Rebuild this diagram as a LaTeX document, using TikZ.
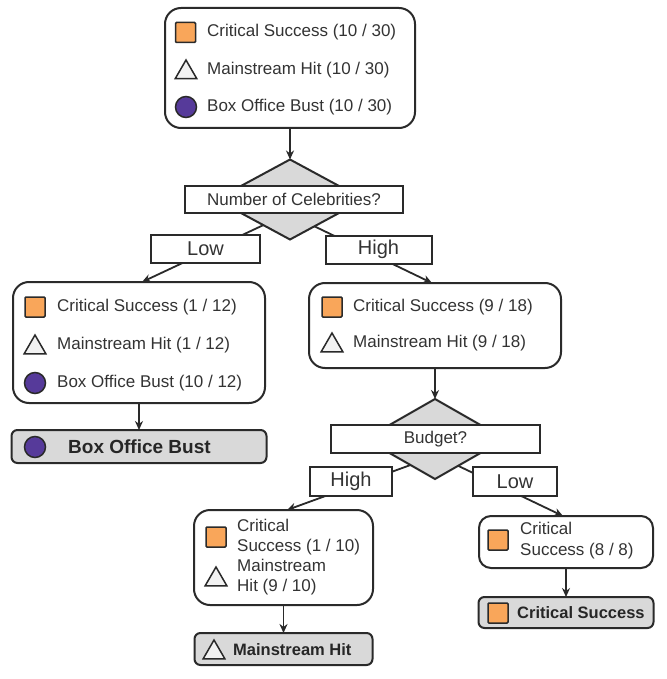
\documentclass[tikz,border=0pt]{standalone}
\usepackage{fontspec}
\setmainfont{Liberation Sans}
\usetikzlibrary{shapes.geometric,arrows.meta,calc}
\definecolor{csor}{HTML}{F9A65A}
\definecolor{bopu}{HTML}{563A9A}
\definecolor{ln}{HTML}{2A2A2A}
\definecolor{dg}{HTML}{D9D9D9}
\definecolor{trifill}{HTML}{F2F2F2}
\definecolor{txt}{HTML}{333333}
\begin{document}
\begin{tikzpicture}[x=1pt,y=-1pt,
  box/.style={draw=ln, line width=2pt, rounded corners=16pt, fill=white, inner sep=0pt, outer sep=0pt},
  leaf/.style={draw=ln, line width=2pt, rounded corners=6pt, fill=dg, inner sep=0pt, outer sep=0pt},
  dia/.style={diamond, draw=ln, line width=2pt, fill=dg, inner sep=0pt, outer sep=0pt},
  lab/.style={draw=ln, line width=2pt, fill=white, inner sep=0pt, outer sep=0pt, minimum height=28pt, text=txt, font=\fontsize{20}{22}\selectfont},
  ques/.style={draw=ln, line width=2pt, fill=white, inner sep=0pt, outer sep=0pt, minimum height=27pt, text=txt, font=\fontsize{17}{20}\selectfont},
  sq/.style={draw=ln, line width=1.5pt, fill=csor, minimum size=20pt, inner sep=0pt, rounded corners=1pt},
  ci/.style={circle, draw=ln, line width=1.5pt, fill=bopu, minimum size=21pt, inner sep=0pt},
  tr/.style={regular polygon, regular polygon sides=3, draw=ln, line width=1.5pt, fill=trifill, minimum size=25pt, inner sep=0pt, yshift=-2.5pt},
  tx/.style={anchor=west, inner sep=0pt, text=txt, align=left, font=\fontsize{17}{20}\selectfont},
  btx/.style={anchor=west, inner sep=0pt, text=black!85, font=\bfseries\fontsize{19}{22}\selectfont},
  arr/.style={draw=ln, line width=1.8pt, -{Stealth[length=9pt,width=8pt]}}
]
\useasboundingbox (0,0) rectangle (666,679);
\fill[white] (0,0) rectangle (666,679);

% root
\node[box, minimum width=250pt, minimum height=120pt] (top) at (290,68) {};
\node[sq] (t1) at (185.5,32.5) {};
\node[tx] (t1t) at (207,32.5) {Critical Success (10 / 30)};
\node[tr] (t2) at (186,70) {};
\node[tx] (t2t) at (207,70) {Mainstream Hit (10 / 30)};
\node[ci] (t3) at (186,107) {};
\node[tx] (t3t) at (207,107) {Box Office Bust (10 / 30)};

% first decision
\node[dia, minimum width=148pt, minimum height=80pt] (d1) at (290,199.5) {};
\node[ques, minimum width=218pt] (q1) at (294,199.5) {Number of Celebrities?};

% left child
\node[box, minimum width=252pt, minimum height=121pt] (L) at (139,342.5) {};
\node[sq] (l1) at (35,307) {};
\node[tx] (l1t) at (57,307) {Critical Success (1 / 12)};
\node[tr] (l2) at (35,345) {};
\node[tx] (l2t) at (57,345) {Mainstream Hit (1 / 12)};
\node[ci] (l3) at (35,383) {};
\node[tx] (l3t) at (57,383) {Box Office Bust (10 / 12)};

\node[leaf, minimum width=255pt, minimum height=33pt] (leafL) at (139,446.5) {};
\node[ci] (ll) at (35,447) {};
\node[btx] (llt) at (68,447) {Box Office Bust};

% right child
\node[box, minimum width=252pt, minimum height=85pt] (R) at (435,325.5) {};
\node[sq] (r1) at (332,307) {};
\node[tx] (r1t) at (353,307) {Critical Success (9 / 18)};
\node[tr] (r2) at (332,343) {};
\node[tx] (r2t) at (353,343) {Mainstream Hit (9 / 18)};

% second decision
\node[dia, minimum width=140pt, minimum height=80pt] (d2) at (435,439) {};
\node[ques, minimum width=209pt, minimum height=28pt] (q2) at (435.5,439) {Budget?};

% bottom-left child
\node[box, minimum width=179pt, minimum height=95pt] (BL) at (283.5,557.5) {};
\node[sq] (b1) at (216,537) {};
\node[tx] (b1t) at (237,537) {Critical\\Success (1 / 10)};
\node[tr] (b2) at (216,577) {};
\node[tx] (b2t) at (237,577) {Mainstream\\Hit (9 / 10)};

\node[leaf, minimum width=178pt, minimum height=32pt] (leafBL) at (283.5,649) {};
\node[tr] (bl) at (214,650) {};
\node[btx, font=\bfseries\fontsize{16.5}{20}\selectfont] (blt) at (233,650) {Mainstream Hit};

% bottom-right child
\node[box, minimum width=174pt, minimum height=52pt, rounded corners=12pt] (BR) at (566,542) {};
\node[sq] (c1) at (498,540) {};
\node[tx, font=\fontsize{17}{21}\selectfont] (c1t) at (520,541) {Critical\\Success (8 / 8)};

\node[leaf, minimum width=175pt, minimum height=31pt] (leafBR) at (566,612.5) {};
\node[sq] (cl) at (498,613) {};
\node[btx, font=\bfseries\fontsize{16.5}{20}\selectfont] (clt) at (517,613) {Critical Success};

% connectors
\draw[arr] (top.south) -- (d1.north);
\coordinate (s1) at ($(d1.south)!0.36!(d1.west)$);
\coordinate (s2) at ($(d1.south)!0.33!(d1.east)$);
\draw[arr] (s1) -- ($(L.north)+(3,0)$);
\draw[arr] (s2) -- ($(R.north)+(-3,0)$);
\draw[arr] (L.south) -- (leafL.north);
\draw[arr] (R.south) -- (d2.north);
\coordinate (s3) at ($(d2.south)!0.35!(d2.west)$);
\coordinate (s4) at ($(d2.south)!0.33!(d2.east)$);
\draw[arr] (s3) -- ($(BL.north)+(3.5,0)$);
\draw[arr] (s4) -- ($(BR.north)+(-3,0)$);
\draw[arr] (BL.south) -- (leafBL.north);
\draw[arr] (BR.south) -- (leafBR.north);

% branch labels
\node[lab, minimum width=109pt] (lowA) at (205.5,249) {Low};
\node[lab, minimum width=106pt] (highA) at (378.5,249.5) {High};
\node[lab, minimum width=82pt, minimum height=29pt] (highB) at (351,481.5) {High};
\node[lab, minimum width=84pt, minimum height=29pt] (lowB) at (515,481.5) {Low};
\end{tikzpicture}
\end{document}
